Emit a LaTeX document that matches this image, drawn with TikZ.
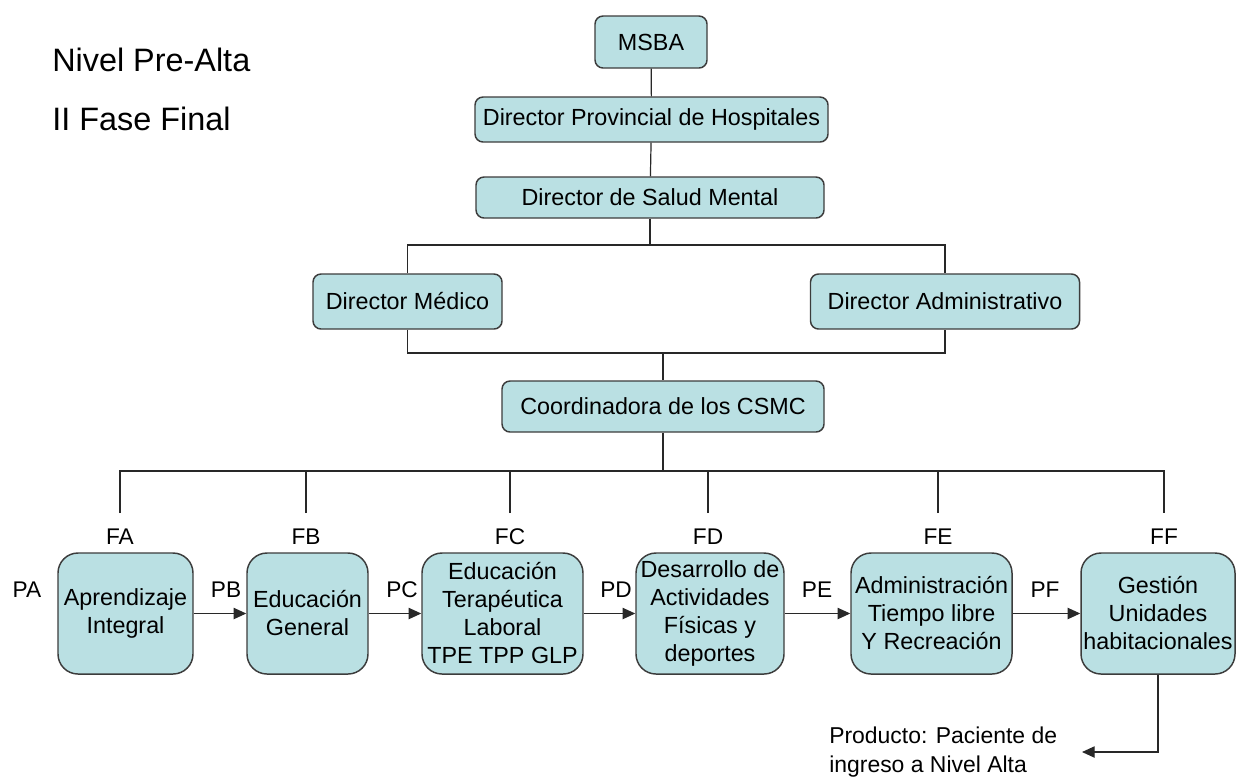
\documentclass[tikz,border=0pt]{standalone}
\usepackage{fontspec}
\setmainfont{Liberation Sans}
\usetikzlibrary{arrows.meta}
\definecolor{boxfill}{RGB}{186,224,227}
\definecolor{boxline}{RGB}{60,60,60}
\definecolor{wire}{RGB}{40,40,40}
\tikzset{
  box/.style={draw=boxline, fill=boxfill, line width=1.1pt, rounded corners=6pt,
    inner sep=0pt, align=center, font=\fontsize{17.5}{21}\selectfont},
  bigbox/.style={box, rounded corners=15pt},
  lbl/.style={inner sep=0pt, font=\fontsize{17}{20}\selectfont},
  wireline/.style={draw=wire, line width=0.9pt},
  arr/.style={wireline, -{Triangle[length=9.5pt,width=8.5pt]}},
}
\begin{document}
\begin{tikzpicture}[x=0.75pt,y=-0.75pt]
\useasboundingbox (0,0) rectangle (1237,776);
% titles
\node[anchor=west, inner sep=0pt, font=\fontsize{24.3}{28}\selectfont] (t1) at (52,59.5) {Nivel Pre-Alta};
\node[anchor=west, inner sep=0pt, font=\fontsize{24.3}{28}\selectfont] (t2) at (52,118.5) {II Fase Final};
% top chain
\node[box, minimum width=84pt, minimum height=39pt] (msba) at (651,42) {MSBA};
\node[box, minimum width=264.75pt, minimum height=33.75pt] (dph) at (651.5,119.5) {Director Provincial de Hospitales};
\node[box, minimum width=261pt, minimum height=30.75pt] (dsm) at (650,197.5) {Director de Salud Mental};
\node[box, minimum width=141.75pt, minimum height=41.25pt] (dm) at (407.5,301.5) {Director Médico};
\node[box, minimum width=201.75pt, minimum height=41.25pt] (da) at (945,301.5) {Director Administrativo};
\node[box, minimum width=241.5pt, minimum height=38.25pt] (coord) at (663,406.5) {Coordinadora de los CSMC};
% bottom boxes
\node[bigbox, minimum width=101.25pt, minimum height=90.75pt] (A) at (125.5,613.5) {Aprendizaje\\Integral};
\node[bigbox, minimum width=90.75pt, minimum height=90.75pt] (B) at (307.5,613.5) {Educación\\General};
\node[bigbox, minimum width=120.75pt, minimum height=90.75pt] (C) at (502.5,613.5) {Educación\\Terapéutica\\Laboral\\TPE TPP GLP};
\node[bigbox, minimum width=111pt, minimum height=90.75pt] (D) at (710,613.5) {Desarrollo de\\Actividades\\Físicas y\\deportes};
\node[bigbox, minimum width=120.75pt, minimum height=90.75pt] (E) at (931.5,613.5) {Administración\\Tiempo libre\\Y Recreación};
\node[bigbox, minimum width=115.5pt, minimum height=90.75pt] (F) at (1158,613.5) {Gestión\\Unidades\\habitacionales};
% F labels
\node[lbl] (FA) at (120,537) {FA};
\node[lbl] (FB) at (306,537) {FB};
\node[lbl] (FC) at (510,537) {FC};
\node[lbl] (FD) at (708,537) {FD};
\node[lbl] (FE) at (938,537) {FE};
\node[lbl] (FF) at (1164,537) {FF};
% P labels
\node[lbl] (PA) at (27,590) {PA};
\node[lbl] (PB) at (226,590) {PB};
\node[lbl] (PC) at (402,590) {PC};
\node[lbl] (PD) at (616,590) {PD};
\node[lbl] (PE) at (817,590) {PE};
\node[lbl] (PF) at (1045,590) {PF};
% product
\node[anchor=west, inner sep=0pt, align=left, font=\fontsize{17.2}{21.75}\selectfont] (prod) at (829,752.5) {Producto: Paciente de\\ingreso a Nivel Alta};
\coordinate (pend) at (1082,752);
% connectors top
\draw[wireline] (msba) -- (dph);
\draw[wireline] (dph) -- (dsm);
\coordinate (bus1) at (650,245);
\draw[wireline] (dsm) -- (bus1);
\draw[wireline] (dm.north) -- (dm.north |- bus1) -- (da.north |- bus1) -- (da.north);
\coordinate (bus2) at (663,353);
\draw[wireline] (dm.south) -- (dm.south |- bus2) -- (da.south |- bus2) -- (da.south);
\draw[wireline] (bus2) -- (coord.north);
\coordinate (bus3) at (663,471);
\draw[wireline] (coord.south) -- (bus3);
\draw[wireline] ([yshift=18pt]FA.center) -- (FA |- bus3) -- (FF |- bus3) -- ([yshift=18pt]FF.center);
\foreach \n in {FB,FC,FD,FE}{
  \draw[wireline] ([yshift=18pt]\n.center) -- (\n |- bus3);
}
% process arrows
\draw[arr] (A) -- (B);
\draw[arr] (B) -- (C);
\draw[arr] (C) -- (D);
\draw[arr] (D) -- (E);
\draw[arr] (E) -- (F);
\draw[arr] (F.south) |- (pend);
\end{tikzpicture}
\end{document}
